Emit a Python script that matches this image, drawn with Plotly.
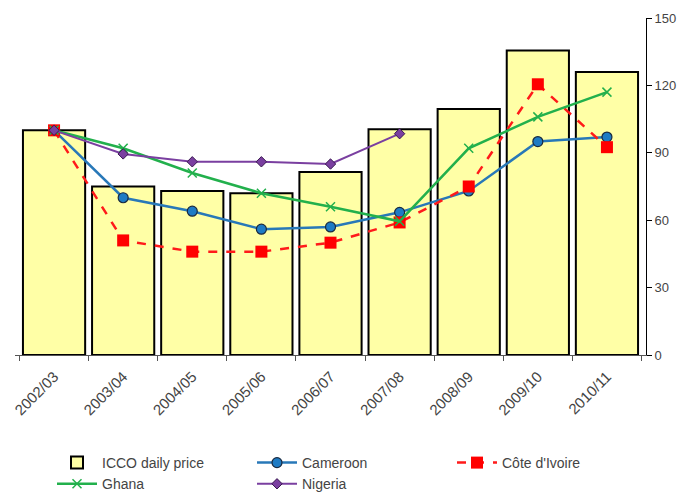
import plotly.graph_objects as go

years = ["2002/03", "2003/04", "2004/05", "2005/06", "2006/07", "2007/08", "2008/09", "2009/10", "2010/11"]
icco = [100, 75, 73, 72, 81.5, 100.5, 109.5, 135.5, 126]
cameroon = [100, 70, 64, 56, 57, 63.5, 73, 95, 97]
cote_ivoire = [100, 51, 46, 46, 50, 59, 75, 120.5, 92.5]
ghana = [100, 92, 81, 72, 66, 59.5, 92, 106, 117]
nigeria = [100, 89.5, 86, 86, 85, 98.5, None, None, None]

FONT = "Liberation Sans Narrow, Arial Narrow, Liberation Sans, Arial, sans-serif"

fig = go.Figure()
fig.add_trace(go.Bar(x=years, y=icco, name="ICCO daily price",
                     marker=dict(color="#FFFFA6", line=dict(color="black", width=2))))
fig.add_trace(go.Scatter(x=years, y=cameroon, name="Cameroon", mode="lines+markers",
                         line=dict(color="#2878B8", width=2.5),
                         marker=dict(symbol="circle", size=10, color="#1E7BC4",
                                     line=dict(color="#1a2a40", width=1.2))))
fig.add_trace(go.Scatter(x=years, y=cote_ivoire, name="Côte d'Ivoire", mode="lines+markers",
                         line=dict(color="#FF1A1A", width=2.5, dash="dash"),
                         marker=dict(symbol="square", size=12, color="#FF0000")))
fig.add_trace(go.Scatter(x=years, y=ghana, name="Ghana", mode="lines+markers",
                         line=dict(color="#22B04C", width=2.5),
                         marker=dict(symbol="x-thin", size=9, color="#22B04C",
                                     line=dict(color="#22B04C", width=1.5))))
fig.add_trace(go.Scatter(x=years, y=nigeria, name="Nigeria", mode="lines+markers",
                         line=dict(color="#7A3FA0", width=2),
                         marker=dict(symbol="diamond", size=8, color="#7A3FA0",
                                     line=dict(color="#3a1a50", width=1))))

fig.update_layout(
    width=677, height=499,
    margin=dict(l=15, r=31, t=18, b=144, autoexpand=False),
    paper_bgcolor="white", plot_bgcolor="white",
    font=dict(family=FONT, size=13, color="#444444"),
    bargap=0.1,
    showlegend=True,
    legend=dict(orientation="h", xref="container", yref="container",
                x=52 / 677, y=1 - 447 / 499, xanchor="left", yanchor="top",
                entrywidth=145, entrywidthmode="pixels", traceorder="normal",
                font=dict(family=FONT, size=14, color="#444444"), itemwidth=40,
                tracegroupgap=0),
    xaxis=dict(type="category", tickangle=-45, showline=True, linecolor="#555555",
               linewidth=1, ticks="outside", tickson="boundaries", ticklen=5,
               tickcolor="#555555", showgrid=False, automargin=False,
               ticklabelstandoff=6,
               tickfont=dict(family=FONT, size=15, color="#444444")),
    yaxis=dict(side="right", range=[0, 150], dtick=30, showline=True, linecolor="black",
               linewidth=1, ticks="outside", ticklen=5, tickcolor="black", showgrid=False,
               zeroline=False, automargin=False,
               tickfont=dict(family=FONT, size=13, color="#444444")),
)

fig.write_html("out.html")
